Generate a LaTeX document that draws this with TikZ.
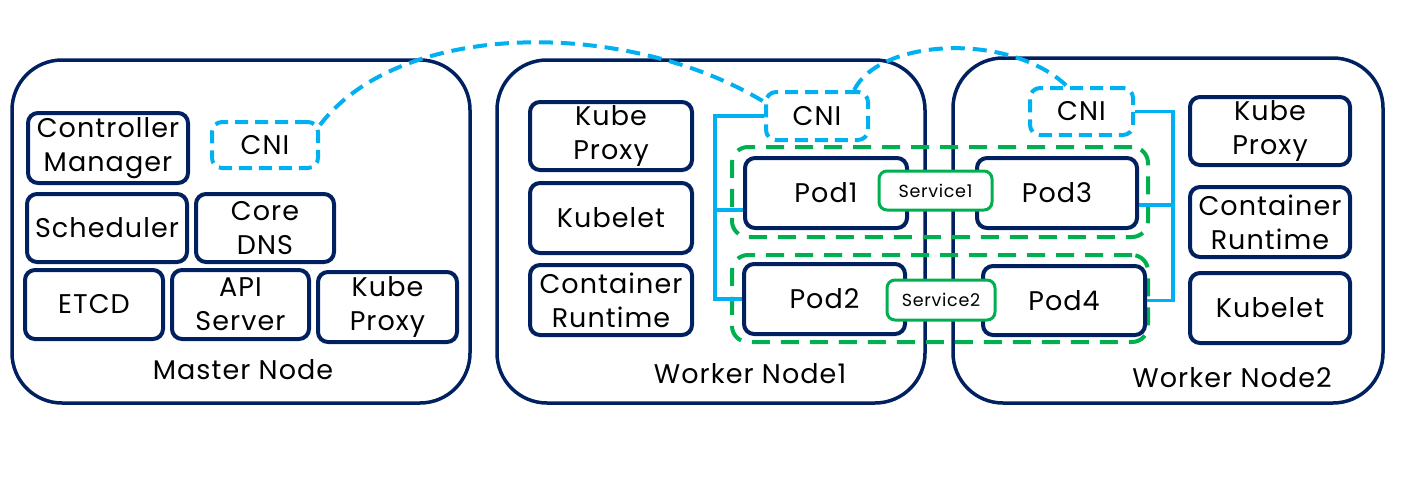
\documentclass[tikz,border=0pt]{standalone}
\usepackage{fontspec}
\setmainfont{Poppins}[LetterSpace=4]
\definecolor{navy}{HTML}{002060}
\definecolor{cniblue}{HTML}{00B0F0}
\definecolor{grn}{HTML}{00B050}
\tikzset{
  outer/.style={draw=navy, line width=3.5pt, rounded corners=50pt, inner sep=0pt},
  box/.style={draw=navy, line width=4pt, rounded corners=10pt, inner sep=0pt, align=center,
    font=\fontsize{27}{34}\selectfont, text=black},
  cnibox/.style={draw=cniblue, line width=4pt, dash pattern=on 13pt off 7pt, rounded corners=10pt,
    inner sep=0pt, font=\fontsize{27}{34}\selectfont},
  grp/.style={draw=grn, line width=4pt, dash pattern=on 18pt off 11pt, rounded corners=16pt, inner sep=0pt},
  svc/.style={draw=grn, line width=3pt, fill=white, rounded corners=8pt, inner sep=0pt,
    font=\fontsize{17.5}{21}\selectfont},
  lbl/.style={font=\fontsize{27}{34}\selectfont, inner sep=0pt},
  bus/.style={draw=cniblue, line width=3.5pt},
  arc/.style={draw=cniblue, line width=4pt, dash pattern=on 14pt off 8pt},
}
\begin{document}
\begin{tikzpicture}[x=1pt,y=-1pt]
\useasboundingbox (0,0) rectangle (1407,493);
% outer nodes
\node[outer, minimum width=458pt, minimum height=343pt] (master) at (241,231.5) {};
\node[outer, minimum width=428pt, minimum height=343pt] (w1) at (711,231.5) {};
\node[outer, minimum width=430pt, minimum height=345pt] (w2) at (1168,230.5) {};
\node[lbl] (masterlbl) at (243,370) {Master Node};
\node[lbl] (w1lbl) at (750,374) {Worker Node1};
\node[lbl] (w2lbl) at (1232,378) {Worker Node2};
% master components
\node[box, minimum width=160pt, minimum height=70pt] (cm) at (108,148) {Controller\\Manager};
\node[cnibox, minimum width=106pt, minimum height=46pt] (mcni) at (265,145) {CNI};
\node[box, minimum width=160pt, minimum height=68pt] (sched) at (107,228) {Scheduler};
\node[box, minimum width=138pt, minimum height=68pt] (dns) at (265,228) {Core\\DNS};
\node[box, minimum width=138pt, minimum height=69pt] (etcd) at (94,304.5) {ETCD};
\node[box, minimum width=137pt, minimum height=69pt] (api) at (240.5,304.5) {API\\Server};
\node[box, minimum width=139pt, minimum height=70pt] (mkp) at (387.5,307) {Kube\\Proxy};
% worker 1 components
\node[box, minimum width=162pt, minimum height=68pt] (w1kp) at (611,136) {Kube\\Proxy};
\node[box, minimum width=162pt, minimum height=70pt] (w1kl) at (611,218) {Kubelet};
\node[box, minimum width=162pt, minimum height=70pt] (w1cr) at (611,300) {Container\\Runtime};
\node[cnibox, minimum width=102pt, minimum height=48pt] (w1cni) at (817,116) {CNI};
% worker 2 components
\node[cnibox, minimum width=103pt, minimum height=47pt] (w2cni) at (1081.5,111.5) {CNI};
\node[box, minimum width=160pt, minimum height=68pt] (w2kp) at (1270,131) {Kube\\Proxy};
\node[box, minimum width=160pt, minimum height=70pt] (w2cr) at (1270,222) {Container\\Runtime};
\node[box, minimum width=160pt, minimum height=70pt] (w2kl) at (1270,308) {Kubelet};
% service groups
\node[grp, minimum width=416pt, minimum height=90pt] (g1) at (940,192) {};
\node[grp, minimum width=416pt, minimum height=87pt] (g2) at (940,298.5) {};
% pods
\node[box, minimum width=162pt, minimum height=70pt] (pod1) at (826,193) {Pod1};
\node[box, minimum width=161pt, minimum height=70pt] (pod2) at (824.5,299) {Pod2};
\node[box, minimum width=160pt, minimum height=70pt] (pod3) at (1057,193) {Pod3};
\node[box, minimum width=162pt, minimum height=69pt] (pod4) at (1064,300.5) {Pod4};
% services
\node[svc, minimum width=113pt, minimum height=39pt] (svc1) at (935.5,190.5) {Service1};
\node[svc, minimum width=108pt, minimum height=40pt] (svc2) at (941,300) {Service2};
% CNI buses
\coordinate (w1bus) at (715,210);
\draw[bus] (w1cni.west) -| (w1bus) |- (pod2.west);
\draw[bus] (w1bus) -- (w1bus -| pod1.west);
\coordinate (w2bus) at (1173,205);
\draw[bus] (w2cni.east) -| (w2bus) |- (pod4.east);
\draw[bus] (w2bus) -- (w2bus -| pod3.east);
% CNI arcs
\draw[arc] (mcni.20) .. controls (400,20) and (625,18) .. (w1cni.165);
\draw[arc] (w1cni.35) .. controls (880,38) and (1010,32) .. (w2cni.120);
\end{tikzpicture}
\end{document}
